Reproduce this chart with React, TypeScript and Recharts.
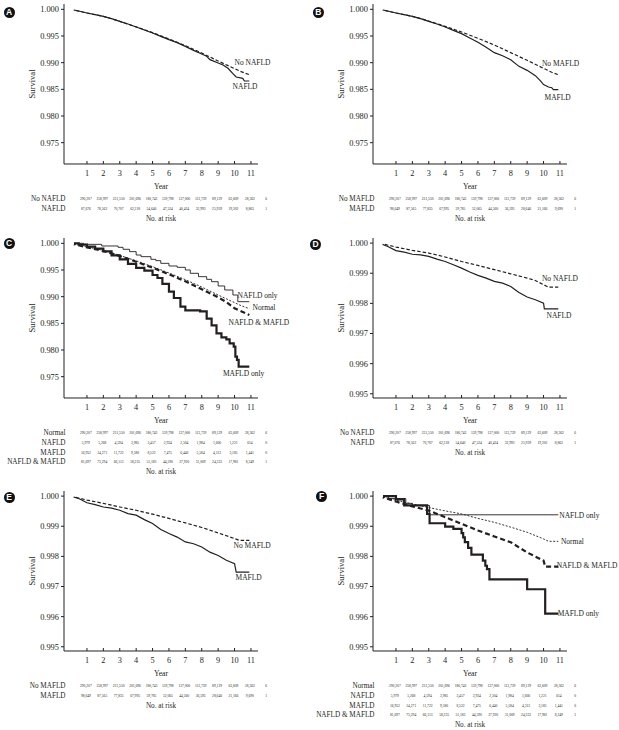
import React from 'react';
import { LineChart, Line, XAxis, YAxis, ReferenceDot } from 'recharts';

const FONT = '"Liberation Serif", "Times New Roman", serif';
const INK = '#231f20';
const X_DOMAIN: [number, number] = [-0.4, 11.43];

// ---------- tick labels ----------
const YEARS = [1, 2, 3, 4, 5, 6, 7, 8, 9, 10, 11];
const RISK_YEARS = [0, 1, 2, 3, 4, 5, 6, 7, 8, 9, 10, 11];
const Y_TICKS_WIDE = [0.975, 0.98, 0.985, 0.99, 0.995, 1.0];
const Y_TICKS_NARROW = [0.995, 0.996, 0.997, 0.998, 0.999, 1.0];
const Y_DOMAIN_WIDE: [number, number] = [0.971, 1.001];
const Y_DOMAIN_NARROW: [number, number] = [0.99486, 1.00017];

// ---------- numbers at risk ----------
const riskNormal = [290207, 258997, 231550, 201696, 180743, 159798, 137000, 113739, 89129, 63609, 28362, 6];
const riskNafld = [87676, 78562, 70707, 62218, 54640, 47524, 40424, 32993, 25939, 19202, 8863, 1];
const riskMafld = [98649, 87565, 77835, 67995, 59785, 52065, 44560, 36595, 28646, 21166, 9690, 1];
const riskNafldOnly = [5979, 5268, 4594, 3985, 3457, 2934, 2504, 1984, 1606, 1221, 614, 0];
const riskMafldOnly = [16952, 14271, 11722, 9580, 8522, 7475, 6440, 5584, 4313, 3185, 1441, 0];
const riskBoth = [81697, 73294, 66113, 58235, 51183, 44590, 37920, 31009, 24333, 17981, 8249, 1];

type Pt = [number, number];

// ---------- Panel A ----------
const aNoNafld: Pt[] = [[0, 1], [1, 0.99931], [2, 0.99869], [3, 0.99775], [4, 0.99672], [5, 0.99563], [6, 0.99444], [7, 0.99319], [8, 0.99181], [9, 0.99031], [10, 0.98888], [10.4, 0.98831], [10.9, 0.98775]];
const aNafld: Pt[] = [[0, 1], [0.5, 0.99969], [1, 0.99931], [1.5, 0.999], [2, 0.99869], [2.5, 0.99825], [3, 0.99775], [3.5, 0.99725], [4, 0.99669], [4.5, 0.99613], [5, 0.99556], [5.5, 0.99494], [6, 0.99431], [6.5, 0.99375], [7, 0.99306], [7.5, 0.99231], [8, 0.99163], [8.3, 0.99119], [8.5, 0.99056], [9, 0.98994], [9.3, 0.98956], [9.6, 0.98894], [9.9, 0.98794], [10.1, 0.98731], [10.5, 0.98706], [10.6, 0.98656], [10.9, 0.98656]];

// ---------- Panel B ----------
const bNoMafld: Pt[] = [[0, 1], [1, 0.99931], [2, 0.99869], [3, 0.99781], [4, 0.99681], [5, 0.99575], [6, 0.99456], [7, 0.99331], [8, 0.99188], [9, 0.99044], [10, 0.98894], [10.5, 0.98819], [10.9, 0.98775]];
const bMafld: Pt[] = [[0, 1], [0.5, 0.99969], [1, 0.99931], [1.5, 0.999], [2, 0.99869], [2.5, 0.99825], [3, 0.99775], [3.5, 0.99725], [4, 0.99669], [4.5, 0.99606], [5, 0.99544], [5.5, 0.99463], [6, 0.99381], [6.5, 0.99288], [7, 0.99188], [7.5, 0.99131], [8, 0.99056], [8.5, 0.98931], [9, 0.98856], [9.5, 0.98756], [9.8, 0.98663], [10, 0.98588], [10.3, 0.98544], [10.5, 0.98531], [10.6, 0.98494], [10.9, 0.98494]];

// ---------- Panel C ----------
const cNafldOnly: Pt[] = [[0, 1], [0.8, 0.99981], [1.9, 0.9995], [2.9, 0.99925], [3.2, 0.99888], [3.6, 0.99844], [4.0, 0.99781], [4.3, 0.9975], [4.9, 0.997], [5.2, 0.99675], [5.5, 0.99625], [6.0, 0.99575], [6.5, 0.9955], [7.0, 0.995], [7.3, 0.99438], [7.8, 0.99375], [8.3, 0.99325], [8.6, 0.99281], [9.0, 0.992], [9.4, 0.99125], [9.9, 0.99031], [10.2, 0.98906], [10.9, 0.98906]];
const cNormal: Pt[] = [[0, 1], [1, 0.99931], [2, 0.99869], [3, 0.99775], [4, 0.99672], [5, 0.99563], [6, 0.99444], [7, 0.99319], [8, 0.99181], [9, 0.99031], [10, 0.98888], [10.4, 0.98831], [10.9, 0.98775]];
const cBoth: Pt[] = [[0, 1], [1, 0.99925], [2, 0.99856], [3, 0.99763], [4, 0.99656], [5, 0.99544], [6, 0.99419], [7, 0.99288], [8, 0.99138], [9, 0.98988], [9.5, 0.989], [10, 0.98781], [10.5, 0.98713], [10.9, 0.98656]];
const cMafldOnly: Pt[] = [[0, 1], [0.5, 0.99975], [1, 0.99938], [1.5, 0.999], [2, 0.9985], [2.5, 0.99775], [3, 0.997], [3.5, 0.99613], [4, 0.99538], [4.5, 0.99488], [5, 0.99406], [5.3, 0.9935], [5.6, 0.99238], [6, 0.99094], [6.3, 0.98975], [6.7, 0.98813], [7, 0.98744], [7.9, 0.98725], [8.3, 0.98588], [8.6, 0.98463], [8.9, 0.98313], [9.2, 0.98238], [9.5, 0.982], [9.7, 0.98125], [9.95, 0.98063], [10.05, 0.97875], [10.15, 0.97813], [10.25, 0.97688], [10.9, 0.97688]];

// ---------- Panel D ----------
const dNoNafld: Pt[] = [[0, 1], [1, 0.99987], [2, 0.99976], [3, 0.99967], [4, 0.99954], [5, 0.99939], [6, 0.99926], [7, 0.99912], [8, 0.99898], [9, 0.99884], [9.5, 0.99876], [10, 0.99862], [10.3, 0.99854], [10.9, 0.99854]];
const dNafld: Pt[] = [[0, 1], [0.5, 0.99989], [1, 0.99975], [1.5, 0.9997], [2, 0.99963], [2.5, 0.99961], [3, 0.99956], [3.5, 0.99947], [4, 0.99939], [4.5, 0.99928], [5, 0.99917], [5.5, 0.99904], [6, 0.99893], [6.5, 0.99884], [7, 0.99873], [7.5, 0.99867], [8, 0.99856], [8.5, 0.99836], [9, 0.99821], [9.5, 0.99812], [10, 0.99801], [10.05, 0.99782], [10.9, 0.99782]];

// ---------- Panel E ----------
const eNoMafld: Pt[] = [[0, 1], [1, 0.99987], [2, 0.99976], [3, 0.99964], [4, 0.99953], [5, 0.9994], [6, 0.99926], [7, 0.99911], [8, 0.99896], [9, 0.99878], [10, 0.99859], [10.3, 0.99853], [10.9, 0.99853]];
const eMafld: Pt[] = [[0, 1], [0.5, 0.99992], [1, 0.99978], [1.5, 0.99972], [2, 0.99964], [2.5, 0.9996], [3, 0.99953], [3.5, 0.99942], [4, 0.99937], [4.5, 0.99922], [5, 0.99909], [5.5, 0.99889], [6, 0.99876], [6.5, 0.99864], [7, 0.99848], [7.5, 0.99842], [8, 0.99831], [8.5, 0.99814], [9, 0.99803], [9.5, 0.99787], [10, 0.99776], [10.1, 0.99748], [10.9, 0.99748]];

// ---------- Panel F ----------
const fNafldOnly: Pt[] = [[0, 1], [0.55, 0.99992], [1.6, 0.99976], [2.0, 0.99969], [3.05, 0.99938], [10.9, 0.99938]];
const fNormal: Pt[] = [[0, 1], [1, 0.99986], [2, 0.99974], [3, 0.99962], [4, 0.99951], [5, 0.99941], [6, 0.99926], [7, 0.99913], [8, 0.99897], [9, 0.9988], [10, 0.99858], [10.3, 0.9985], [10.9, 0.9985]];
const fBoth: Pt[] = [[0, 1], [1, 0.99982], [2, 0.99966], [3, 0.99952], [4, 0.9993], [5, 0.99908], [6, 0.99886], [7, 0.99866], [8, 0.99847], [8.5, 0.9983], [9, 0.99813], [10, 0.99786], [10.1, 0.99766], [10.9, 0.99766]];
const fMafldOnly: Pt[] = [[0, 1], [1.0, 0.99989], [1.5, 0.99969], [2.9, 0.99941], [3.05, 0.9991], [4, 0.99899], [4.5, 0.99891], [5, 0.99877], [5.1, 0.99863], [5.2, 0.99847], [5.4, 0.99828], [5.6, 0.99806], [6.3, 0.99786], [6.45, 0.99769], [6.55, 0.99758], [6.7, 0.99724], [9.0, 0.99691], [10.1, 0.9961], [10.9, 0.9961]];

// ---------- styles ----------
type Kind = 'solid' | 'dashed' | 'thin' | 'dotted' | 'thickDashed' | 'thick';
const STYLES: Record<Kind, { strokeWidth: number; strokeDasharray?: string }> = {
  solid: { strokeWidth: 1.2 },
  dashed: { strokeWidth: 1.2, strokeDasharray: '3.5 2' },
  thin: { strokeWidth: 0.9 },
  dotted: { strokeWidth: 0.9, strokeDasharray: '2 1.6' },
  thickDashed: { strokeWidth: 2.2, strokeDasharray: '5 3' },
  thick: { strokeWidth: 2.2 },
};

type Series = { name: string; pts: Pt[]; kind: Kind; step?: boolean };
type CurveLabel = { text: string; t: number; s: number };
type Row = { name: string; values: number[] };

const fmt = (n: number) => n.toLocaleString('en-US');

const PLOT_H = 160;
const MAIN_H = 30.7;
const ROW_H = 9.6;
const NAR_H = 12;

const YearTick = (p: any) => {
  const { x, y, payload } = p;
  return (
    <g>
      <line x1={x} x2={x} y1={y} y2={y - 3} stroke={INK} strokeWidth={1} />
      <text x={x} y={y + 9.5} textAnchor="middle" dominantBaseline="central" fontSize={8.3} fill={INK} fontFamily={FONT}>
        {payload.value}
      </text>
    </g>
  );
};

const YearLabel = (p: any) => {
  const vb = p.viewBox;
  if (!vb) return null;
  return (
    <text x={vb.x + vb.width / 2} y={vb.y + 22.8} textAnchor="middle" dominantBaseline="central" fontSize={7.7} fill={INK} fontFamily={FONT}>
      Year
    </text>
  );
};

const NarLabel = (p: any) => {
  const vb = p.viewBox;
  if (!vb) return null;
  return (
    <text x={vb.x + vb.width / 2} y={vb.y + 5.2} textAnchor="middle" dominantBaseline="central" fontSize={7.2} fill={INK} fontFamily={FONT}>
      No. at risk
    </text>
  );
};

const SurvivalLabel = (p: any) => {
  const vb = p.viewBox;
  if (!vb) return null;
  const cx = vb.x + 31.7;
  const cy = vb.y + vb.height / 2;
  return (
    <text x={cx} y={cy} transform={`rotate(-90 ${cx} ${cy})`} textAnchor="middle" dominantBaseline="central" fontSize={8.6} fill={INK} fontFamily={FONT}>
      Survival
    </text>
  );
};

const rowId = (i: number) => 'b_row' + i;

function Panel(props: {
  left: number;
  top: number;
  yDomain: [number, number];
  yTicks: number[];
  series: Series[];
  labels: CurveLabel[];
  rows: Row[];
}) {
  const { left, top, yDomain, yTicks, series, labels, rows } = props;
  const height = PLOT_H + MAIN_H + rows.length * ROW_H + NAR_H;
  const anchorData = [{ t: 0, s: 1 }];
  const rowAxes = rows.map((r, i) => (
    <XAxis
      key={rowId(i)}
      xAxisId={rowId(i)}
      type="number"
      dataKey="t"
      domain={X_DOMAIN}
      allowDataOverflow
      ticks={RISK_YEARS}
      interval={0}
      tickSize={0}
      tickMargin={0}
      tickLine={false}
      axisLine={false}
      height={ROW_H}
      tick={(p: any) => (
        <text x={p.x + 15.3} y={p.y + ROW_H / 2} textAnchor="middle" dominantBaseline="central" fontSize={3.6} fill={INK} fontFamily={FONT}>
          {fmt(r.values[Math.round(p.payload.value)])}
        </text>
      )}
      label={(p: any) =>
        p.viewBox ? (
          <text x={p.viewBox.x + 1.5} y={p.viewBox.y + p.viewBox.height / 2} textAnchor="end" dominantBaseline="central" fontSize={7.2} fill={INK} fontFamily={FONT}>
            {r.name}
          </text>
        ) : null
      }
    />
  ));
  const anchorLines = [...rows.map((_, i) => rowId(i)), 'c_nar'].map((id) => (
    <Line
      key={'anchor-' + id}
      xAxisId={id}
      yAxisId="y"
      data={anchorData}
      dataKey="s"
      stroke="none"
      dot={false}
      activeDot={false}
      legendType="none"
      isAnimationActive={false}
    />
  ));
  return (
    <div style={{ position: 'absolute', left, top, width: 309, height }}>
      <LineChart width={309} height={height} margin={{ top: 0, right: 51, bottom: 0, left: 0 }}>
        <XAxis
          xAxisId="a_main"
          type="number"
          dataKey="t"
          domain={X_DOMAIN}
          allowDataOverflow
          ticks={YEARS}
          interval={0}
          tickSize={0}
          tickMargin={0}
          tickLine={false}
          height={MAIN_H}
          axisLine={{ stroke: INK, strokeWidth: 1 }}
          tick={YearTick}
          label={YearLabel}
        />
        {rowAxes}
        <XAxis
          xAxisId="c_nar"
          type="number"
          dataKey="t"
          domain={X_DOMAIN}
          allowDataOverflow
          ticks={[]}
          tick={false}
          tickLine={false}
          axisLine={false}
          height={NAR_H}
          label={NarLabel}
        />
        <YAxis
          yAxisId="y"
          type="number"
          domain={yDomain}
          allowDataOverflow
          ticks={yTicks}
          interval={0}
          width={64}
          tickSize={3}
          tickMargin={2}
          tickFormatter={(v: number) => v.toFixed(3)}
          axisLine={{ stroke: INK, strokeWidth: 1 }}
          tickLine={{ stroke: INK, strokeWidth: 1 }}
          tick={{ fontSize: 8.4, fill: INK, fontFamily: FONT }}
          label={SurvivalLabel}
        />
        {anchorLines}
        {series.map((s) => (
          <Line
            key={s.name}
            name={s.name}
            xAxisId="a_main"
            yAxisId="y"
            data={s.pts.map(([t, v]) => ({ t, s: v }))}
            dataKey="s"
            type={s.step ? 'stepAfter' : 'linear'}
            stroke={INK}
            strokeWidth={STYLES[s.kind].strokeWidth}
            strokeDasharray={STYLES[s.kind].strokeDasharray}
            dot={false}
            activeDot={false}
            isAnimationActive={false}
          />
        ))}
        {labels.map((l) => (
          <ReferenceDot
            key={l.text}
            xAxisId="a_main"
            yAxisId="y"
            x={l.t}
            y={l.s}
            r={0}
            ifOverflow="visible"
            shape={(p: any) => (
              <text x={p.cx} y={p.cy} textAnchor="start" dominantBaseline="central" fontSize={7.5} fill={INK} fontFamily={FONT}>
                {l.text}
              </text>
            )}
          />
        ))}
      </LineChart>
    </div>
  );
}

const LETTERS = [
  { l: 'A', x: 9, y: 12.3 },
  { l: 'B', x: 318.3, y: 12.3 },
  { l: 'C', x: 9, y: 243 },
  { l: 'D', x: 315.5, y: 244 },
  { l: 'E', x: 9, y: 497 },
  { l: 'F', x: 321.5, y: 496 },
];

export default function App() {
  return (
    <div style={{ position: 'absolute', left: 0, top: 0, width: 619, height: 730, background: '#fff', overflow: 'hidden' }}>
      <Panel
        left={0}
        top={4.3}
        yDomain={Y_DOMAIN_WIDE}
        yTicks={Y_TICKS_WIDE}
        series={[
          { name: 'No NAFLD', pts: aNoNafld, kind: 'dashed' },
          { name: 'NAFLD', pts: aNafld, kind: 'solid' },
        ]}
        labels={[
          { text: 'No NAFLD', t: 10.0, s: 0.98994 },
          { text: 'NAFLD', t: 9.88, s: 0.98544 },
        ]}
        rows={[
          { name: 'No NAFLD', values: riskNormal },
          { name: 'NAFLD', values: riskNafld },
        ]}
      />
      <Panel
        left={309}
        top={4.3}
        yDomain={Y_DOMAIN_WIDE}
        yTicks={Y_TICKS_WIDE}
        series={[
          { name: 'No MAFLD', pts: bNoMafld, kind: 'dashed' },
          { name: 'MAFLD', pts: bMafld, kind: 'solid' },
        ]}
        labels={[
          { text: 'No MAFLD', t: 9.9, s: 0.98981 },
          { text: 'MAFLD', t: 10.06, s: 0.9835 },
        ]}
        rows={[
          { name: 'No MAFLD', values: riskNormal },
          { name: 'MAFLD', values: riskMafld },
        ]}
      />
      <Panel
        left={0}
        top={238.3}
        yDomain={Y_DOMAIN_WIDE}
        yTicks={Y_TICKS_WIDE}
        series={[
          { name: 'NAFLD only', pts: cNafldOnly, kind: 'thin', step: true },
          { name: 'Normal', pts: cNormal, kind: 'dotted' },
          { name: 'NAFLD & MAFLD', pts: cBoth, kind: 'thickDashed' },
          { name: 'MAFLD only', pts: cMafldOnly, kind: 'thick', step: true },
        ]}
        labels={[
          { text: 'NAFLD only', t: 10.18, s: 0.99031 },
          { text: 'Normal', t: 11.1, s: 0.98794 },
          { text: 'NAFLD & MAFLD', t: 9.63, s: 0.98519 },
          { text: 'MAFLD only', t: 9.29, s: 0.9755 },
        ]}
        rows={[
          { name: 'Normal', values: riskNormal },
          { name: 'NAFLD', values: riskNafldOnly },
          { name: 'MAFLD', values: riskMafldOnly },
          { name: 'NAFLD & MAFLD', values: riskBoth },
        ]}
      />
      <Panel
        left={309}
        top={238.3}
        yDomain={Y_DOMAIN_NARROW}
        yTicks={Y_TICKS_NARROW}
        series={[
          { name: 'No NAFLD', pts: dNoNafld, kind: 'dashed' },
          { name: 'NAFLD', pts: dNafld, kind: 'solid' },
        ]}
        labels={[
          { text: 'No NAFLD', t: 9.9, s: 0.99884 },
          { text: 'NAFLD', t: 10.18, s: 0.9976 },
        ]}
        rows={[
          { name: 'No NAFLD', values: riskNormal },
          { name: 'NAFLD', values: riskNafld },
        ]}
      />
      <Panel
        left={0}
        top={490.5}
        yDomain={Y_DOMAIN_NARROW}
        yTicks={Y_TICKS_NARROW}
        series={[
          { name: 'No MAFLD', pts: eNoMafld, kind: 'dashed' },
          { name: 'MAFLD', pts: eMafld, kind: 'solid' },
        ]}
        labels={[
          { text: 'No MAFLD', t: 9.94, s: 0.99837 },
          { text: 'MAFLD', t: 10.06, s: 0.99729 },
        ]}
        rows={[
          { name: 'No MAFLD', values: riskNormal },
          { name: 'MAFLD', values: riskMafld },
        ]}
      />
      <Panel
        left={309}
        top={490.5}
        yDomain={Y_DOMAIN_NARROW}
        yTicks={Y_TICKS_NARROW}
        series={[
          { name: 'NAFLD only', pts: fNafldOnly, kind: 'thin', step: true },
          { name: 'Normal', pts: fNormal, kind: 'dotted' },
          { name: 'NAFLD & MAFLD', pts: fBoth, kind: 'thickDashed' },
          { name: 'MAFLD only', pts: fMafldOnly, kind: 'thick', step: true },
        ]}
        labels={[
          { text: 'NAFLD only', t: 10.96, s: 0.99936 },
          { text: 'Normal', t: 11.06, s: 0.9985 },
          { text: 'NAFLD & MAFLD', t: 10.8, s: 0.99769 },
          { text: 'MAFLD only', t: 10.86, s: 0.99611 },
        ]}
        rows={[
          { name: 'Normal', values: riskNormal },
          { name: 'NAFLD', values: riskNafldOnly },
          { name: 'MAFLD', values: riskMafldOnly },
          { name: 'NAFLD & MAFLD', values: riskBoth },
        ]}
      />
      {LETTERS.map((c) => (
        <div
          key={c.l}
          style={{
            position: 'absolute',
            left: c.x - 5.5,
            top: c.y - 5.5,
            width: 11,
            height: 11,
            borderRadius: '50%',
            background: '#111',
            color: '#fff',
            fontFamily: '"Liberation Sans", Arial, sans-serif',
            fontWeight: 700,
            fontSize: 8.5,
            lineHeight: '11px',
            textAlign: 'center',
          }}
        >
          {c.l}
        </div>
      ))}
    </div>
  );
}
